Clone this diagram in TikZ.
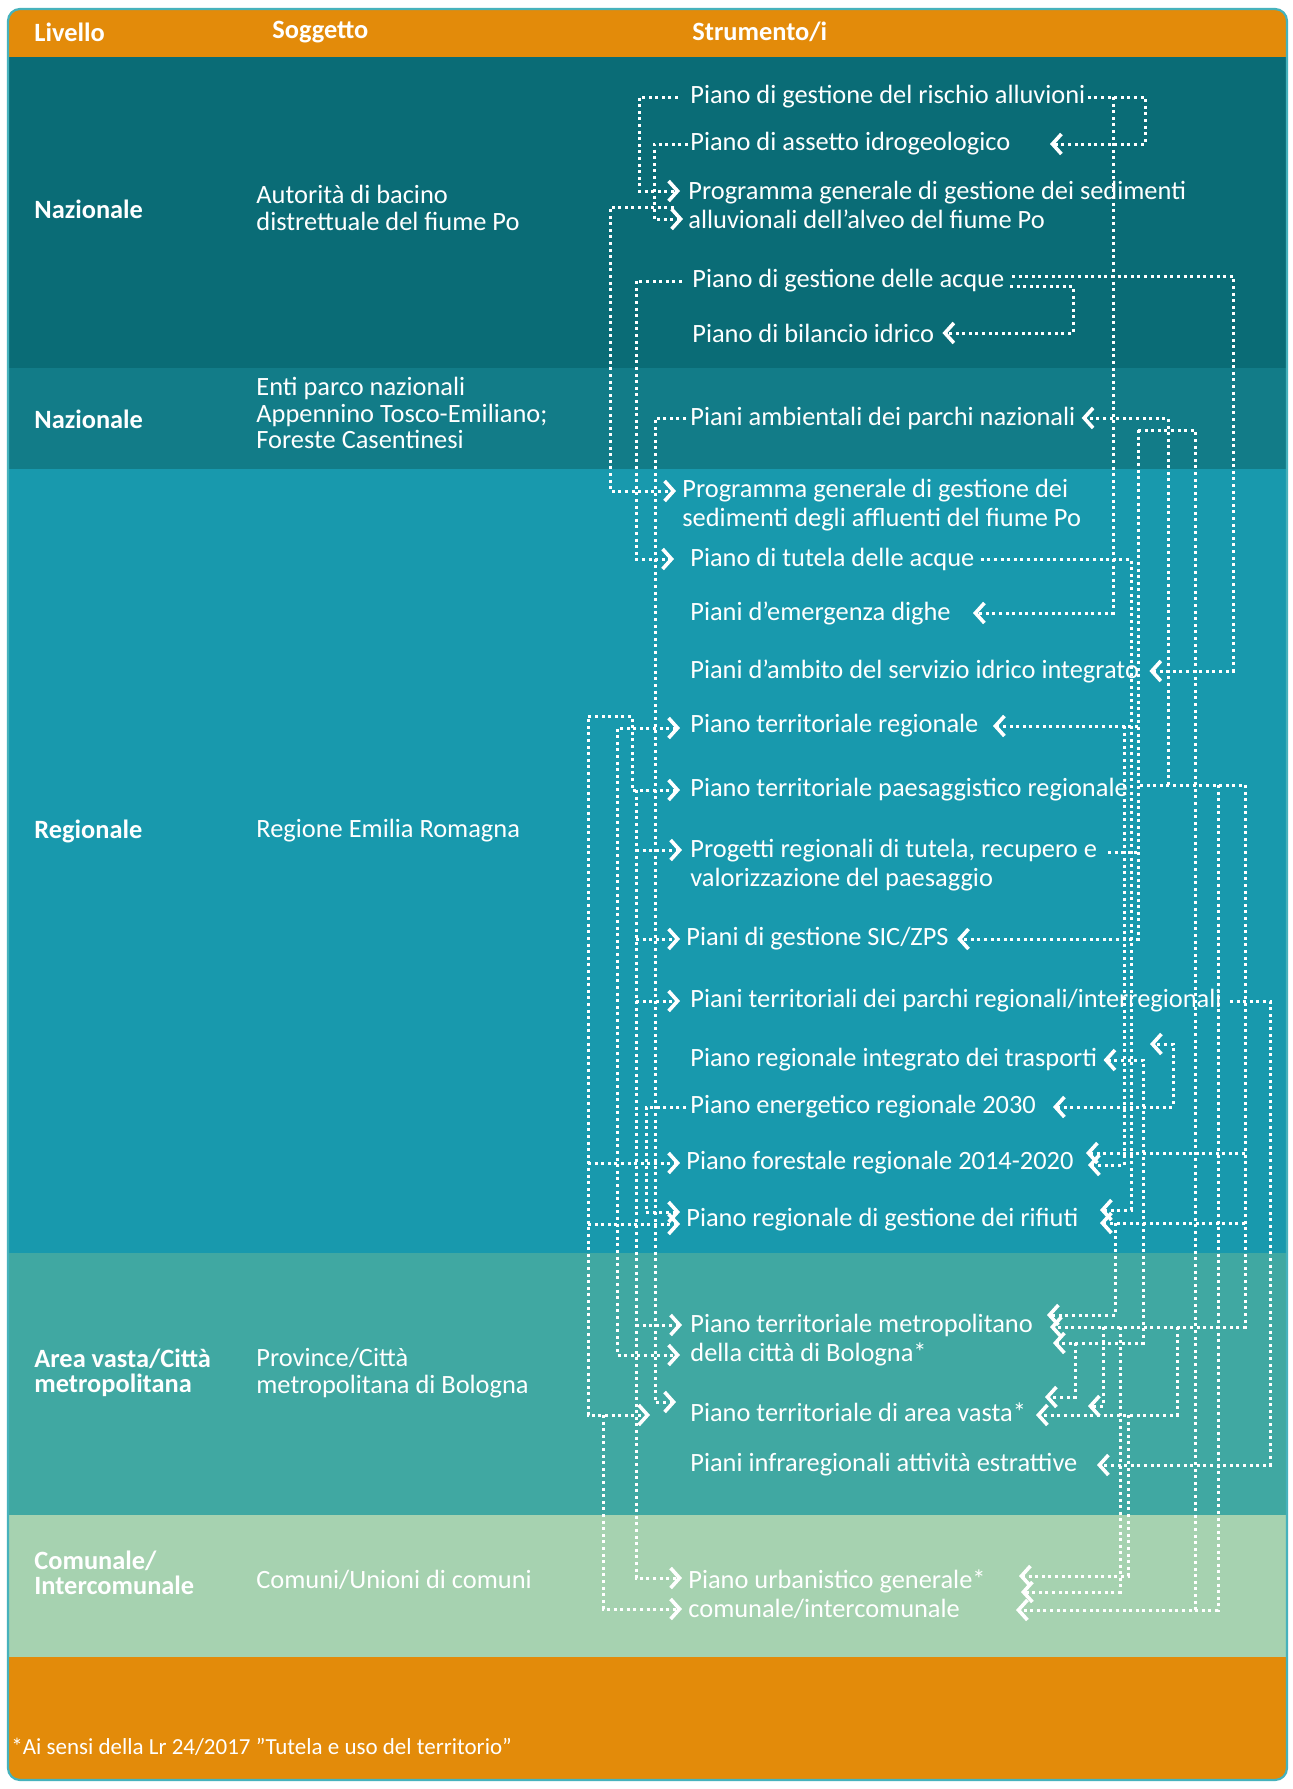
\documentclass[tikz,border=0pt]{standalone}
\usepackage{fontspec}
\setmainfont{Carlito}
\usetikzlibrary{arrows.meta}
\definecolor{orng}{RGB}{227,139,10}
\definecolor{nat1}{RGB}{10,108,118}
\definecolor{nat2}{RGB}{18,124,136}
\definecolor{regc}{RGB}{24,153,173}
\definecolor{areac}{RGB}{64,168,162}
\definecolor{comc}{RGB}{166,210,176}
\definecolor{frm}{RGB}{70,178,188}
\begin{document}
\begin{tikzpicture}[x=0.5pt,y=-0.5pt,
  >={Straight Barb[length=4.5pt,width=10pt,line width=1.8pt]},
  con/.style={draw=white,line width=1.5pt,dash pattern=on 1.5pt off 1.8pt},
  txt/.style={text=white,inner sep=0pt,anchor=west,align=left,font=\fontsize{13.2}{14.6}\selectfont},
  hdr/.style={txt,font=\bfseries\fontsize{13.2}{14.6}\selectfont},
  lev/.style={txt,font=\bfseries\fontsize{13.2}{12.6}\selectfont},
  sog/.style={txt,font=\fontsize{13.2}{13.4}\selectfont},
  foot/.style={txt,font=\fontsize{11.5}{13}\selectfont}]
\useasboundingbox (0,0) rectangle (1293,1789);
\fill[white] (0,0) rectangle (1293,1789);
\begin{scope}
\clip[rounded corners=6pt] (8,9) rectangle (1287,1780);
\fill[orng] (0,0) rectangle (1293,57);
\fill[nat1] (0,57) rectangle (1293,368);
\fill[nat2] (0,368) rectangle (1293,469);
\fill[regc] (0,469) rectangle (1293,1253);
\fill[areac] (0,1253) rectangle (1293,1515);
\fill[comc] (0,1515) rectangle (1293,1657);
\fill[orng] (0,1657) rectangle (1293,1789);
\end{scope}
\draw[frm,line width=1.1pt,rounded corners=6pt] (8,9) rectangle (1287,1780);

% header
\node[hdr] (hL) at (34,32) {Livello};
\node[hdr] (hS) at (272,32) {Soggetto};
\node[hdr] (hT) at (692,32) {Strumento/i};

% livello
\node[lev] (l1) at (34,209) {Nazionale};
\node[lev] (l2) at (34,419) {Nazionale};
\node[lev] (l3) at (34,831) {Regionale};
\node[lev] (l4) at (34,1373) {Area vasta/Città\\metropolitana};
\node[lev] (l5) at (34,1573) {Comunale/\\Intercomunale};

% soggetto
\node[sog] (g1) at (256,208) {Autorità di bacino\\distrettuale del fiume Po};
\node[sog] (g2) at (256,413) {Enti parco nazionali\\Appennino Tosco-Emiliano;\\Foreste Casentinesi};
\node[sog] (g3) at (256,831) {Regione Emilia Romagna};
\node[sog] (g4) at (256,1373) {Province/Città\\metropolitana di Bologna};
\node[sog] (g5) at (256,1580) {Comuni/Unioni di comuni};

% strumenti
\node[txt] (s1) at (690,97) {Piano di gestione del rischio alluvioni};
\node[txt] (s2) at (690,144) {Piano di assetto idrogeologico};
\node[txt] (s3) at (688,205) {Programma generale di gestione dei sedimenti\\alluvionali dell’alveo del fiume Po};
\node[txt] (s4) at (692,281) {Piano di gestione delle acque};
\node[txt] (s5) at (692,333) {Piano di bilancio idrico};
\node[txt] (s6) at (690,418) {Piani ambientali dei parchi nazionali};
\node[txt] (s7) at (682,505) {Programma generale di gestione dei\\sedimenti degli affluenti del fiume Po};
\node[txt] (s8) at (690,559) {Piano di tutela delle acque};
\node[txt] (s9) at (690,613) {Piani d’emergenza dighe};
\node[txt] (s10) at (690,671) {Piani d’ambito del servizio idrico integrato};
\node[txt] (s11) at (690,726) {Piano territoriale regionale};
\node[txt] (s12) at (690,790) {Piano territoriale paesaggistico regionale};
\node[txt] (s13) at (690,865) {Progetti regionali di tutela, recupero e\\valorizzazione del paesaggio};
\node[txt] (s14) at (686,939) {Piani di gestione SIC/ZPS};
\node[txt] (s15) at (690,1001) {Piani territoriali dei parchi regionali/interregionali};
\node[txt] (s16) at (690,1060) {Piano regionale integrato dei trasporti};
\node[txt] (s17) at (690,1107) {Piano energetico regionale 2030};
\node[txt] (s18) at (686,1163) {Piano forestale regionale 2014-2020};
\node[txt] (s19) at (686,1220) {Piano regionale di gestione dei rifiuti};
\node[txt] (s20) at (690,1340) {Piano territoriale metropolitano\\della città di Bologna*};
\node[txt] (s21) at (690,1412) {Piano territoriale di area vasta*};
\node[txt] (s22) at (690,1465) {Piani infraregionali attività estrattive};
\node[txt] (s23) at (688,1594) {Piano urbanistico generale*\\comunale/intercomunale};

% footer
\node[foot] (ft) at (11,1747) {*Ai sensi della Lr 24/2017 "Tutela e uso del territorio"};

% ---- connectors, top
\draw[con,->] ([xshift=-6pt]s1.west) -- (639,97) -- (639,191) -- (680,191);
\draw[con,->] ([xshift=-1pt]s2.west) -- (654,144) -- (654,219) -- (683,219);
\draw[con,->] (674,207) -- (610,207) -- (610,491) -- (676,491);
\draw[con,->] ([xshift=-5pt]s4.west) -- (636,281) -- (636,559) -- (674,559);
\draw[con,->] ([xshift=1pt]s1.east) -- (1145,97) -- (1145,144) -- (1050,144);
\draw[con,->] (1113,97) -- (1113,613) -- (973,613);
\draw[con,->] (1010,286) -- (1073,286) -- (1073,333) -- ([xshift=4pt]s5.east);
\draw[con,->] (1012,276) -- (1233,276) -- (1233,671) -- ([xshift=5pt]s10.east);

% ---- right side
\draw[con] (1140,785) -- (1245,785);
\draw[con,->] (1168,785) -- (1168,418) -- ([xshift=3pt]s6.east);
\draw[con,->] (1218,785) -- (1218,1610) -- (1016,1610);
\draw[con] (1138,430) -- (1195,430) -- (1195,1610);
\draw[con,->] (1138,430) -- (1138,939) -- ([xshift=4pt]s14.east);
\draw[con,->] (1138,726) -- (993,726);
\draw[con] (1108,852) -- (1138,852);
\draw[con,->] (1124,726) -- (1124,1165) -- (1088,1165);
\draw[con,->] ([xshift=3pt]s8.east) -- (1131,559) -- (1131,1210) -- (1100,1210);
\draw[con,->] (1245,785) -- (1245,1327) -- (1050,1327);
\draw[con,->] (1245,1153) -- (1086,1153);
\draw[con,->] (1245,1223) -- (1100,1223);
\draw[con,->] (1177,1327) -- (1177,1415) -- (1036,1415);
\draw[con,->] (1103,1327) -- (1103,1406) -- (1088,1406);
\draw[con,->] (1120,1327) -- (1120,1592) -- (1021,1592);
\draw[con,->] (1128,1415) -- (1128,1576) -- (1019,1576);
\draw[con,->] ([xshift=4pt]s15.east) -- (1270,1001) -- (1270,1465) -- (1097,1465);
\draw[con,<->] (1053,1107) -- (1173,1107) -- (1173,1044) -- (1150,1044);
\draw[con,<->] ([xshift=3pt]s16.east) -- (1143,1060) -- (1143,1343) -- (1053,1343);
\draw[con,->] (1115,1223) -- (1115,1315) -- (1047,1315);
\draw[con,->] (1075,1343) -- (1075,1397) -- (1045,1397);

% ---- left side
\draw[con,->] ([xshift=-2pt]s6.west) -- (655,418) -- (655,1402) -- (676,1402);
\draw[con,<->] (680,728) -- (617,728) -- (617,1355) -- (680,1355);
\draw[con,<->] (680,790) -- (632,790) -- (632,716) -- (588,716) -- (588,1415) -- (650,1415);
\draw[con,->] (588,1163) -- (680,1163);
\draw[con,->] (588,1224) -- (680,1224);
\draw[con,->] (603,1415) -- (603,1609) -- (682,1609);
\draw[con,->] (636,790) -- (636,1001) -- (680,1001);
\draw[con,->] (636,850) -- (682,850);
\draw[con,->] (636,939) -- (680,939);
\draw[con,->] (636,1001) -- (636,1578) -- (682,1578);
\draw[con,->] (636,1325) -- (682,1325);
\draw[con,->] ([xshift=-2pt]s17.west) -- (646,1107) -- (646,1212) -- (680,1212);
\end{tikzpicture}
\end{document}
